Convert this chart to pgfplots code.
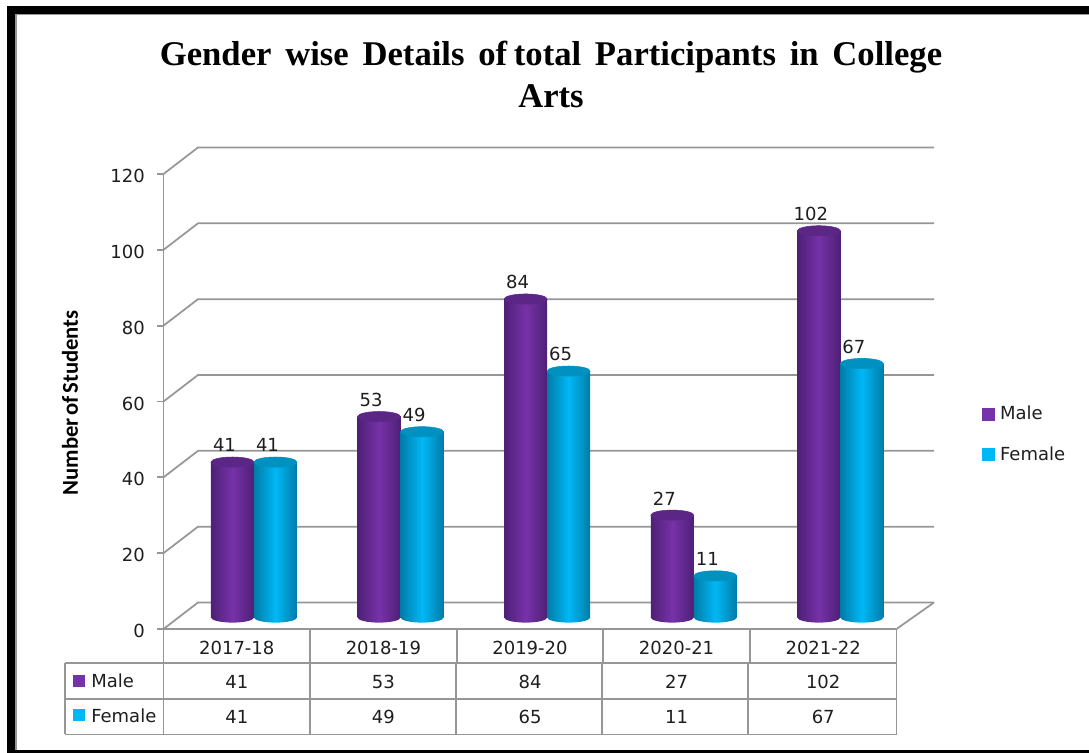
\documentclass[border=0pt]{standalone}
\usepackage{fontspec}
\usepackage{pgfplots}
\usepackage{pgfplotstable}
\pgfplotsset{compat=1.18}
\setmainfont{DejaVu Sans}
\newfontfamily\titlefont{Liberation Serif}
\newfontfamily\labelfont{Carlito}

\definecolor{wallgray}{RGB}{150,150,150}
\definecolor{inkgray}{RGB}{30,30,30}
\definecolor{maleC}{RGB}{118,50,168}
\definecolor{maleD}{RGB}{78,32,118}
\definecolor{maleT}{RGB}{92,38,134}
\definecolor{femaleC}{RGB}{0,184,245}
\definecolor{femaleD}{RGB}{0,124,168}
\definecolor{femaleT}{RGB}{0,145,192}

% 1 px of the reference = 0.75pt
\pgfdeclareplotmark{baseM}{\shade[draw=none,left color=maleD,right color=maleD,middle color=maleC] (0pt,0pt) ellipse [x radius=16.1pt,y radius=3.8pt];}
\pgfdeclareplotmark{baseF}{\shade[draw=none,left color=femaleD,right color=femaleD,middle color=femaleC] (0pt,0pt) ellipse [x radius=16.1pt,y radius=3.8pt];}
\pgfdeclareplotmark{capM}{\fill[maleT,rotate=4] (0pt,0pt) ellipse [x radius=16.1pt,y radius=3.8pt];}
\pgfdeclareplotmark{capF}{\fill[femaleT,rotate=4] (0pt,0pt) ellipse [x radius=16.1pt,y radius=3.8pt];}

\pgfplotstableread{
xm xf male female zero
-0.1467 0.1467 41 41 0
0.8533 1.1467 53 49 0
1.8533 2.1467 84 65 0
2.8533 3.1467 27 11 0
3.8533 4.1467 102 67 0
}\partdata

% one plot per bar, or the shading would run across the whole series
\newcommand{\cylpair}[2]{
  \addplot[forget plot,ybar,bar width=32.2pt,bar shift=0pt,draw=none,
           restrict x to domain=#1:#2,
           left color=maleD,right color=maleD,middle color=maleC,
           nodes near coords] table[x=xm,y=male] {\partdata};
  \addplot[forget plot,ybar,bar width=32.2pt,bar shift=0pt,draw=none,
           restrict x to domain=#1:#2,
           left color=femaleD,right color=femaleD,middle color=femaleC,
           nodes near coords] table[x=xf,y=female] {\partdata};
}

\begin{document}
\begin{tikzpicture}
\useasboundingbox (0,0) rectangle (816.75pt,564.75pt);

\begin{scope}[shift={(0,564.75pt)},x=0.75pt,y=-0.75pt]
  % frame
  \fill[black] (7,6) rectangle (1089,14);
  \fill[black] (7,6) rectangle (15,753);
  \fill[black] (7,750.5) rectangle (1089,753);
  \fill[wallgray] (15,14) rectangle (1089,15.5);
  \fill[wallgray] (15,14) rectangle (16.5,750.5);
  % walls
  \foreach \v in {0,20,...,120}{
    \draw[wallgray,line width=1.3pt] (163.5,{629-\v*3.7917}) -- (198,{602.5-\v*3.7917}) -- (934,{602.5-\v*3.7917});
  }
  \draw[wallgray,line width=1.3pt] (934,602.5) -- (896.5,629);
  % title
  \node[font=\titlefont\bfseries\fontsize{26}{31.5}\selectfont,align=center,text=black] at (551,74)
    {\spaceskip=10.3pt Gender wise Details {\spaceskip=5pt of total} Participants in College\\Arts};
  % data table grid
  \draw[wallgray,line width=1pt] (65,663) -- (896.5,663) (65,699) -- (896.5,699) (65,734.5) -- (896.5,734.5);
  \draw[wallgray,line width=1pt] (65,663) -- (65,734.5) (896.5,629) -- (896.5,734.5);
  \draw[wallgray,line width=1pt] (163.5,629) -- (163.5,734.5);
  \foreach \i/\a/\b in {1/310/310,2/457/456,3/603/602,4/750/748}{
    \draw[wallgray,line width=1pt] (\a,629) -- (\a,663) (\b,663) -- (\b,734.5);
  }
  % table row headers
  \fill[maleC] (73,675) rectangle (85,687);
  \fill[femaleC] (73,709) rectangle (85,721);
  \node[anchor=west,inner sep=0pt,font=\fontsize{13.5}{16}\selectfont,text=inkgray] at (91,681) {Male};
  \node[anchor=west,inner sep=0pt,font=\fontsize{13.5}{16}\selectfont,text=inkgray] at (91,716) {Female};
  % table values
  \foreach \i in {0,...,4}{
    \pgfplotstablegetelem{\i}{male}\of\partdata
    \node[font=\fontsize{13.5}{16}\selectfont,text=inkgray] at ({236.8+\i*146.6},681.5) {\pgfplotsretval};
    \pgfplotstablegetelem{\i}{female}\of\partdata
    \node[font=\fontsize{13.5}{16}\selectfont,text=inkgray] at ({236.8+\i*146.6},717) {\pgfplotsretval};
  }
\end{scope}

% front plane: y axis and category labels
\begin{axis}[
    at={(122.625pt,93pt)},
    anchor=south west,
    scale only axis,
    width=549.75pt,
    height=341.25pt,
    xmin=-0.5, xmax=4.5,
    ymin=0, ymax=120,
    ytick={0,20,...,120},
    xtick={0,1,2,3,4},
    xticklabels={2017-18,2018-19,2019-20,2020-21,2021-22},
    axis x line*=bottom,
    axis y line*=left,
    axis line style={-,wallgray,line width=1.3pt},
    y tick style={wallgray,line width=1.3pt},
    x tick style={draw=none},
    tick align=outside,
    major tick length=4.5pt,
    tick label style={font=\fontsize{13.5}{16}\selectfont,text=inkgray},
    /pgf/number format/assume math mode=true,
    yticklabel style={xshift=-6pt,yshift=-1.5pt},
    xticklabel style={yshift=-1pt},
    ylabel={\labelfont\bfseries\fontsize{17}{19}\selectfont\spaceskip=2pt Number of Students},
    y label style={at={(axis description cs:-0.1276,0.497)},anchor=center},
]
\end{axis}

% cylinders sit half way back on the floor
\begin{axis}[
    at={(135.5pt,101.6pt)},
    anchor=south west,
    scale only axis,
    width=549.75pt,
    height=341.25pt,
    xmin=-0.5, xmax=4.5,
    ymin=0, ymax=120,
    hide axis,
    clip=false,
    /pgf/number format/assume math mode=true,
    legend style={at={(1.093,0.403)},anchor=west,draw=none,fill=none,
                  font=\fontsize{13.5}{16}\selectfont,text=inkgray,
                  row sep=14.5pt,inner sep=0pt},
    legend cell align=left,
    every node near coord/.append style={font=\fontsize{13.5}{16}\selectfont,text=inkgray,
                  anchor=center,xshift=-6pt,yshift=12.5pt},
]
\addplot[forget plot,only marks,mark=baseM] table[x=xm,y=zero] {\partdata};
\addplot[forget plot,only marks,mark=baseF] table[x=xf,y=zero] {\partdata};
\cylpair{-0.5}{0.5}
\cylpair{0.5}{1.5}
\cylpair{1.5}{2.5}
\cylpair{2.5}{3.5}
\cylpair{3.5}{4.5}
\addplot[forget plot,only marks,mark=capM] table[x=xm,y=male] {\partdata};
\addplot[forget plot,only marks,mark=capF] table[x=xf,y=female] {\partdata};
\addlegendimage{only marks,mark=square*,mark size=4.5pt,color=maleC}
\addlegendentry{\hspace{2.5pt}Male}
\addlegendimage{only marks,mark=square*,mark size=4.5pt,color=femaleC}
\addlegendentry{\hspace{2.5pt}Female}
\end{axis}
\end{tikzpicture}
\end{document}
